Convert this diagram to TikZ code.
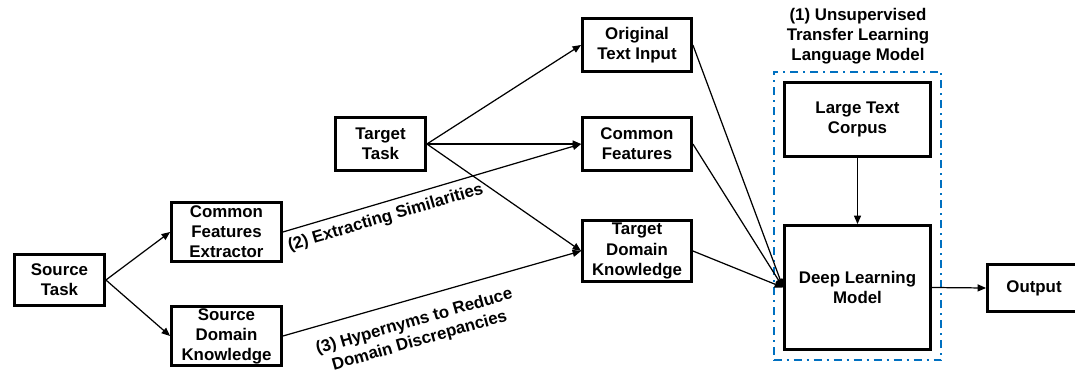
\documentclass[tikz,border=0pt]{standalone}
\usepackage{fontspec}
\setmainfont{Liberation Sans}
\usetikzlibrary{arrows.meta,fit}

\definecolor{lmblue}{RGB}{0,112,192}

\tikzset{
  box/.style={draw, line width=1.6pt, align=center, inner sep=1pt,
    font=\fontsize{9.6}{11.4}\selectfont\bfseries},
  conn/.style={line width=0.7pt, -{Triangle[length=0.17cm,width=0.14cm]}},
  plain/.style={line width=0.7pt},
  lbl/.style={font=\fontsize{9.6}{11.4}\selectfont\bfseries, align=center, inner sep=0pt}
}

\begin{document}
\begin{tikzpicture}[x=0.02cm, y=-0.02cm]
    \useasboundingbox (0,0) rectangle (1075,371);

    % Nodes
    \node[box, minimum width=1.80cm, minimum height=1.02cm] (src) at (59.5,280) {Source\\Task};
    \node[box, minimum width=2.20cm, minimum height=1.18cm] (cfe) at (226.5,232) {Common\\Features\\Extractor};
    \node[box, minimum width=2.20cm, minimum height=1.18cm] (sdk) at (226.5,336) {Source\\Domain\\Knowledge};
    \node[box, minimum width=1.80cm, minimum height=1.06cm] (tgt) at (380.5,144) {Target\\Task};
    \node[box, minimum width=2.18cm, minimum height=1.06cm] (oti) at (637,45) {Original\\Text Input};
    \node[box, minimum width=2.18cm, minimum height=1.06cm] (cf) at (637,144) {Common\\Features};
    \node[box, minimum width=2.18cm, minimum height=1.22cm] (tdk) at (637,251) {Target\\Domain\\Knowledge};
    \node[box, minimum width=2.92cm, minimum height=1.48cm] (ltc) at (857.5,119.5) {Large Text\\Corpus};
    \node[box, minimum width=2.92cm, minimum height=2.48cm] (dlm) at (857.5,287.5) {Deep Learning\\Model};
    \node[box, minimum width=1.86cm, minimum height=0.94cm] (out) at (1034,288) {Output};

    % Language model frame
    \node[draw=lmblue, line width=1.1pt, dash pattern=on 0.16cm off 0.1cm on 0.04cm off 0.1cm,
      inner sep=0.19cm, fit=(ltc)(dlm)] (lm) {};
    \node[lbl] (lmtitle) at (858,36) {(1) Unsupervised\\Transfer Learning\\Language Model};

    % Connection
    \draw[conn] (src.east) -- (cfe.west);
    \draw[conn] (src.east) -- (sdk.west);
    \draw[conn] (cfe.east) -- node[lbl, pos=0.33, sloped, below=4pt] {(2) Extracting Similarities} (cf.west);
    \draw[conn] (sdk.east) -- node[lbl, pos=0.42, sloped, below=0.28cm] {(3) Hypernyms to Reduce\\Domain Discrepancies} (tdk.west);
    \draw[conn] (tgt.east) -- (oti.west);
    \draw[conn] (tgt.east) -- (cf.west);
    \draw[conn] (tgt.east) -- (tdk.west);
    \draw[conn] (oti.east) -- (dlm.west);
    \draw[conn] (cf.east) -- (dlm.west);
    \draw[conn] (tdk.east) -- (dlm.west);
    \draw[conn] (ltc.south) -- (dlm.north);
    \draw[conn] (dlm.east) -- (out.west);
  \end{tikzpicture}
\end{document}
